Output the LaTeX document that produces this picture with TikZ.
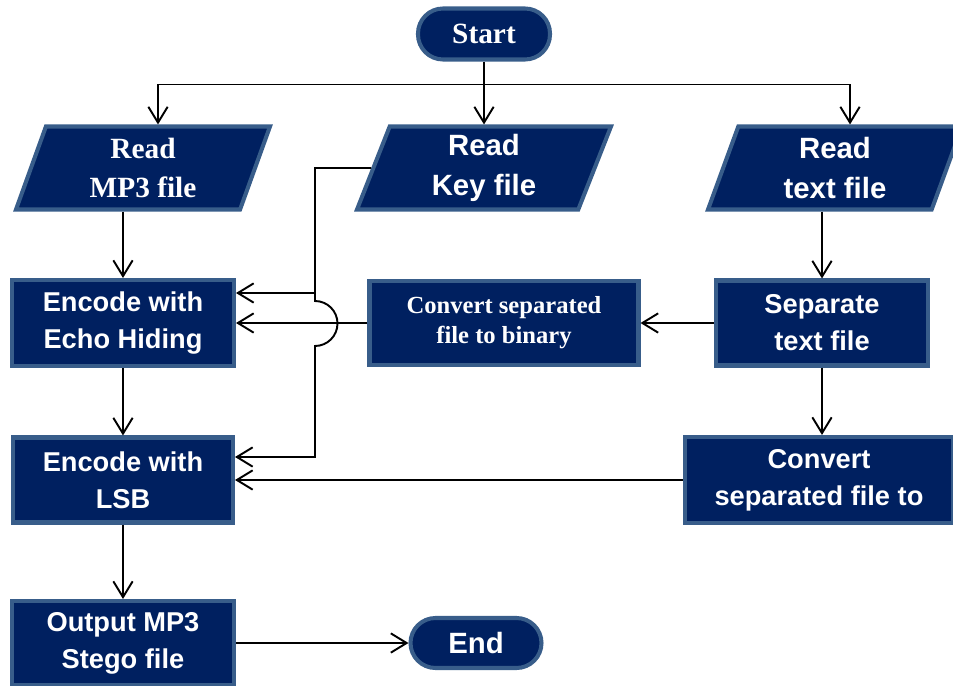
\documentclass[tikz,border=0pt]{standalone}
\usepackage{fontspec}
\setmainfont{Liberation Sans}
\newfontfamily\timesfont{Liberation Serif}
\usepackage{tikz}
\usetikzlibrary{positioning, shapes.geometric, arrows.meta}
\definecolor{boxfill}{RGB}{0,32,96}
\definecolor{boxline}{RGB}{56,93,138}
\tikzstyle{block} = [draw=boxline, fill=boxfill, line width=2.3pt, rectangle, text=white, align=center, font=\bfseries\fontsize{15.5}{21}\selectfont]
\tikzstyle{io} = [block, trapezium, trapezium left angle=67.5, trapezium right angle=112.5, trapezium stretches body, minimum height=1.66cm, minimum width=5.08cm, font=\bfseries\fontsize{16.7}{22.7}\selectfont]
\tikzstyle{terminal} = [block, rounded corners=0.5cm, minimum width=2.64cm, minimum height=1.02cm, font=\bfseries\fontsize{16.7}{20}\selectfont]
\tikzstyle{serifbold} = [font=\timesfont\bfseries\fontsize{16.7}{22.7}\selectfont]

\begin{document}
\begin{tikzpicture}[auto, node distance=2cm, >={Straight Barb[length=9pt,width=11pt]}, line width=1.1pt]
	\useasboundingbox (-9.68,0.68) rectangle (9.38,-13.04);
	\node [terminal, serifbold] (start) {Start};
	\node [io, below of=start, node distance=2.68cm] (readkey) {Read\\Key file};
	\node [io, serifbold, left of=readkey, node distance=6.82cm] (readmp3) {Read\\MP3 file};
	\node [io, right of=readkey, node distance=7.02cm] (readtext) {Read\\text file};
	\node [block, below of=readmp3, node distance=3.1cm, xshift=-0.4cm, minimum width=4.44cm, minimum height=1.72cm] (encecho) {Encode with\\Echo Hiding};
	\node [block, right of=encecho, node distance=7.62cm, minimum width=5.38cm, minimum height=1.68cm, font=\timesfont\bfseries\fontsize{14}{17}\selectfont] (binary) {Convert separated\\file to binary};
	\node [block, right of=binary, node distance=6.36cm, minimum width=4.24cm, minimum height=1.7cm] (separate) {Separate\\text file};
	\node [block, below of=encecho, node distance=3.14cm, minimum width=4.4cm, minimum height=1.7cm] (enclsb) {Encode with\\LSB};
	\node [block, right of=enclsb, node distance=13.92cm, minimum width=5.36cm, minimum height=1.72cm] (convert) {Convert\\separated file to};
	\node [block, below of=enclsb, node distance=3.26cm, minimum width=4.44cm, minimum height=1.68cm] (output) {Output MP3\\Stego file};
	\node [terminal, right of=output, node distance=7.06cm, minimum width=2.62cm, minimum height=1cm] (end) {End};

	\draw [->] (start.south) -- ++(0,-0.46) coordinate (split) -| ([xshift=0.3cm]readmp3.north);
	\draw [->] (split) -| ([xshift=0.3cm]readtext.north);
	\draw [->] (split) -- (readkey.north);
	\draw [->] (encecho |- readmp3.south) -- (encecho.north);
	\draw [->] (separate |- readtext.south) -- (separate.north);
	\draw [->] (separate) -- (binary);
	\draw [->] (binary) -- (encecho);
	\draw [->] (encecho) -- (enclsb);
	\draw [->] (enclsb) -- (output);
	\draw [->] (separate.south) -- (separate.south |- convert.north);
	\draw [->] (convert) -- (enclsb);
	\draw [->] (output) -- (end);

	% key file goes to both encoders, jumping over the binary line
	\coordinate [left of=readkey, node distance=3.38cm] (keybus);
	\coordinate [above=0.6cm of encecho.east] (echoin);
	\coordinate [above=0.46cm of enclsb.east] (lsbin);
	\draw [->] (readkey.west) -- (keybus) -- (echoin -| keybus) -- (echoin);
	\draw [->] (echoin -| keybus) -- ++(0,-0.16) arc [start angle=90, end angle=-90, radius=0.45cm] |- (lsbin);
\end{tikzpicture}
\end{document}
